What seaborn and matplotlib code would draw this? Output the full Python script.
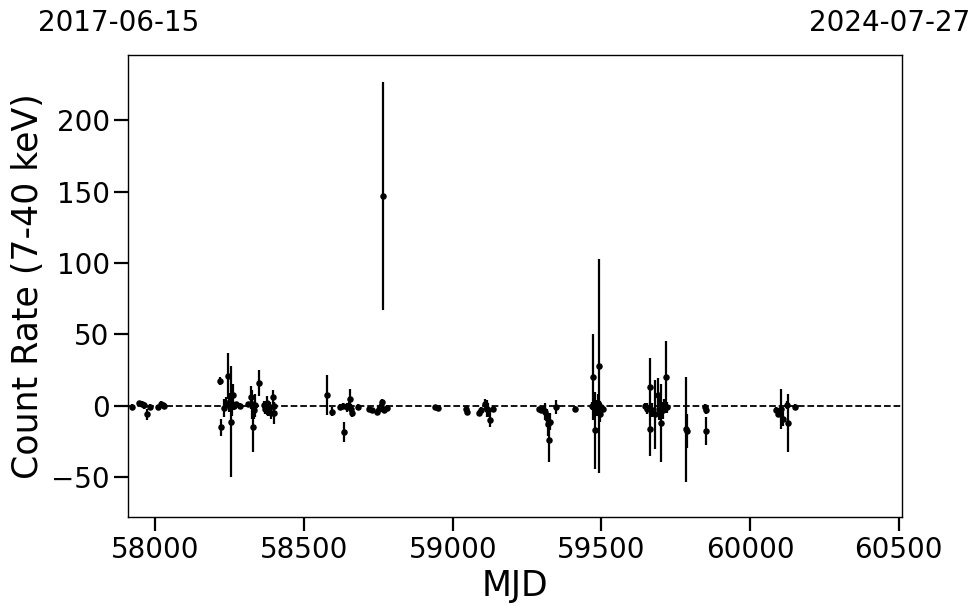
import numpy as np
import pandas as pd
import matplotlib
matplotlib.use("Agg")
import matplotlib.pyplot as plt
import seaborn as sns

# light curve (MJD, count rate 7-40 keV, 1-sigma error)
mjd = [
    57922, 57945, 57955, 57962, 57972, 57983, 58010, 58018, 58024, 58030,
    58218, 58219, 58229, 58236, 58243, 58248, 58252, 58255, 58258, 58262,
    58265, 58272, 58285, 58310, 58320, 58325, 58328, 58330, 58335, 58347,
    58365, 58370, 58375, 58380, 58385, 58390, 58395, 58398, 58400,
    58577, 58594, 58620, 58630, 58635, 58645, 58650, 58653, 58658, 58661, 58683,
    58720, 58730, 58745, 58752, 58758, 58762, 58765, 58770, 58778,
    58942, 58952,
    59045, 59048, 59088, 59095, 59110, 59115, 59120, 59126, 59137,
    59290, 59298, 59305, 59310, 59316, 59321, 59325, 59328, 59349, 59413,
    59470, 59473, 59478, 59482, 59486, 59490, 59493, 59496, 59500, 59505,
    59648, 59655, 59663, 59665, 59672, 59680, 59689, 59695, 59702, 59707,
    59712, 59719, 59722,
    59786, 59789, 59850, 59852, 59853,
    60089, 60095, 60105, 60111, 60125, 60128, 60152,
]
rate = [
    -0.5, 2.0, 1.5, 0.5, -6.0, -1.0, -1.0, 1.5, 0.5, 0.0,
    17.5, -15.0, -1.5, 2.0, 21.0, 0.5, 3.0, -11.0, 1.0, 7.5,
    0.0, 1.0, 0.0, 1.0, 6.0, 1.0, -15.0, -3.0, 0.5, 16.0,
    0.5, -2.0, 2.0, -4.0, -1.0, -5.0, 6.0, -5.0, 0.0,
    7.5, -4.0, -1.0, 0.0, -18.0, -1.0, 0.0, 4.5, -2.0, -5.0, -1.0,
    -2.5, -3.0, -4.0, -2.0, 0.0, 2.5, 147.0, -3.0, -1.5,
    -1.0, -1.5,
    -2.0, -4.5, -5.0, -3.0, 1.0, -2.0, -3.0, -10.0, -2.0,
    -2.5, -3.0, -2.0, -4.0, -8.5, -13.0, -24.0, -11.0, -1.0, -2.0,
    0.0, 20.0, -17.0, -1.0, -3.0, 2.0, 28.0, -6.0, -1.0, -2.0,
    0.0, -2.0, 13.5, -16.0, -3.0, -6.0, 7.5, -2.0, -12.0, -3.0,
    0.0, 20.5, -1.0,
    -16.5, -17.5, -0.5, -3.0, -17.5,
    -3.0, -6.0, -2.5, -9.0, 0.5, -12.0, -1.0,
]
rate_err = [
    1.5, 1.5, 2, 2.5, 4, 2, 1.5, 2, 1.5, 2,
    3, 6, 6, 4, 16, 5, 6, 39, 8, 8,
    3, 2, 2, 2, 8, 10, 17, 6, 8, 9,
    3, 4, 5, 3, 4, 4, 5, 8, 3,
    14, 3, 2, 2, 7, 3, 3, 7, 3, 3, 2,
    1.5, 1.5, 2, 2, 2, 2, 80, 2, 2,
    1, 1,
    2, 2, 2, 2, 4, 6, 5, 5, 2,
    2, 2, 2, 6, 6, 8, 15, 6, 5, 2,
    3, 30, 27, 5, 4, 6, 75, 5, 3, 2,
    2, 4, 20, 19, 5, 24, 12, 8, 27, 6,
    5, 25, 4,
    37, 12, 2, 3, 10,
    2, 2, 14, 5, 3, 20, 2,
]

start_date = "2017-06-15"
end_date = "2024-07-27"

df = pd.DataFrame({"MJD": mjd, "rate": rate, "err": rate_err})

sns.set_style("ticks", {
    "axes.edgecolor": "black",
    "axes.labelcolor": "black",
    "text.color": "black",
    "xtick.color": "black",
    "ytick.color": "black",
})
fig, ax = plt.subplots(figsize=(9.8, 6.13), dpi=100)
fig.subplots_adjust(left=0.131, right=0.920, top=0.910, bottom=0.157)

ax.errorbar(df["MJD"], df["rate"], yerr=df["err"], fmt="none",
            ecolor="black", elinewidth=1.6, zorder=2)
sns.scatterplot(data=df, x="MJD", y="rate", color="black", s=22,
                edgecolor="black", linewidth=0, ax=ax, zorder=3)
ax.axhline(0, color="black", linestyle="--", linewidth=1.3, zorder=1)

ax.set_xlim(57909, 60510)
ax.set_ylim(-77.6, 245.5)
ax.set_xticks([58000, 58500, 59000, 59500, 60000, 60500])
ax.set_yticks([-50, 0, 50, 100, 150, 200])
ax.tick_params(axis="both", labelsize=20, length=10, width=1.6,
               direction="out", colors="black")
for sp in ax.spines.values():
    sp.set_visible(True)
    sp.set_linewidth(1.0)
    sp.set_color("black")

ax.set_xlabel("MJD", fontsize=25)
ax.set_ylabel("Count Rate (7-40 keV)", fontsize=25)

fig.text(0.039, 0.962, start_date, fontsize=20, ha="left", va="center")
fig.text(0.990, 0.962, end_date, fontsize=20, ha="right", va="center")

fig.savefig("out.png", dpi=100)
